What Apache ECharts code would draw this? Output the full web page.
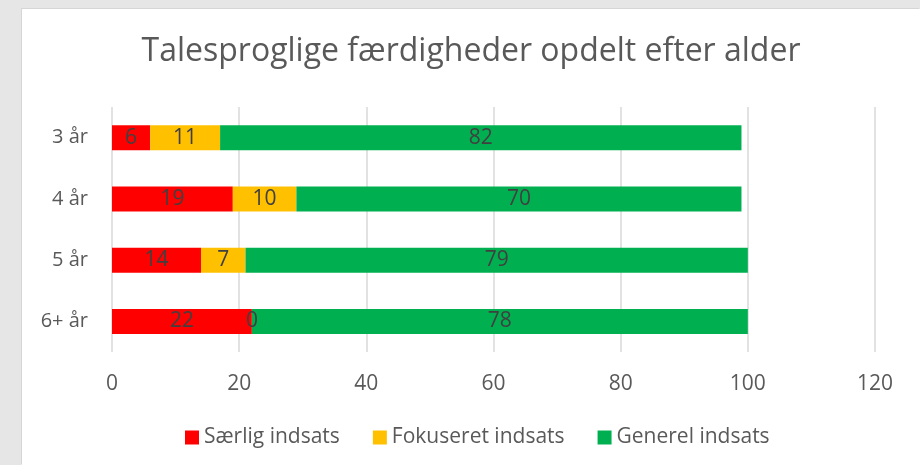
<!DOCTYPE html>
<html>
<head>
<meta charset="utf-8">
<script src="https://cdn.jsdelivr.net/npm/echarts@6/dist/echarts.min.js"></script>
<style>
  html, body { margin:0; padding:0; background:#e6e6e6; width:920px; height:465px; overflow:hidden; }
  #chart { position:absolute; left:22px; top:9px; width:898px; height:456px; background:#ffffff; box-shadow:-1px -1px 0 #d6d6d6; }
</style>
</head>
<body>
<div id="chart"></div>
<script>
const categories = ['3 år', '4 år', '5 år', '6+ år'];
const saerlig = [6, 19, 14, 22];
const fokuseret = [11, 10, 7, 0];
const generel = [82, 70, 79, 78];
const seriesNames = ['Særlig indsats', 'Fokuseret indsats', 'Generel indsats'];
const colors = ['#ff0000', '#ffc000', '#00b050'];
const xTicks = { min: 0, max: 120, interval: 20 };

const font = "'Open Sans', 'Liberation Sans', sans-serif";
const chart = echarts.init(document.getElementById('chart'));
const labelStyle = { show: true, position: 'inside', color: '#404040', fontSize: 21, fontFamily: font };
const mk = (name, data, color) => ({
  name, type: 'bar', stack: 'total', data, barWidth: 25,
  itemStyle: { color }, label: labelStyle, emphasis: { disabled: true }
});
chart.setOption({
  animation: false,
  textStyle: { fontFamily: font },
  title: {
    text: 'Talesproglige færdigheder opdelt efter alder',
    left: 'center', top: 22,
    textStyle: { fontSize: 32, fontWeight: 'normal', color: '#595959', fontFamily: font }
  },
  legend: {
    data: seriesNames, left: 158, top: 413,
    itemWidth: 14, itemHeight: 14, itemGap: 33,
    icon: 'rect',
    textStyle: { fontSize: 21, color: '#595959', fontFamily: font }
  },
  grid: { left: 90, width: 763, top: 98, height: 245, containLabel: false },
  xAxis: {
    type: 'value', min: xTicks.min, max: xTicks.max, interval: xTicks.interval,
    axisLine: { show: false }, axisTick: { show: false },
    axisLabel: { color: '#595959', fontSize: 21, margin: 22, fontFamily: font },
    splitLine: { lineStyle: { color: '#d9d9d9', width: 1.5 } }
  },
  yAxis: {
    type: 'category', data: categories, inverse: true,
    axisLine: { show: false }, axisTick: { show: false },
    axisLabel: { color: '#595959', fontSize: 20, margin: 24, fontFamily: font }
  },
  series: [
    mk(seriesNames[0], saerlig, colors[0]),
    mk(seriesNames[1], fokuseret, colors[1]),
    mk(seriesNames[2], generel, colors[2])
  ]
});
</script>
</body>
</html>
